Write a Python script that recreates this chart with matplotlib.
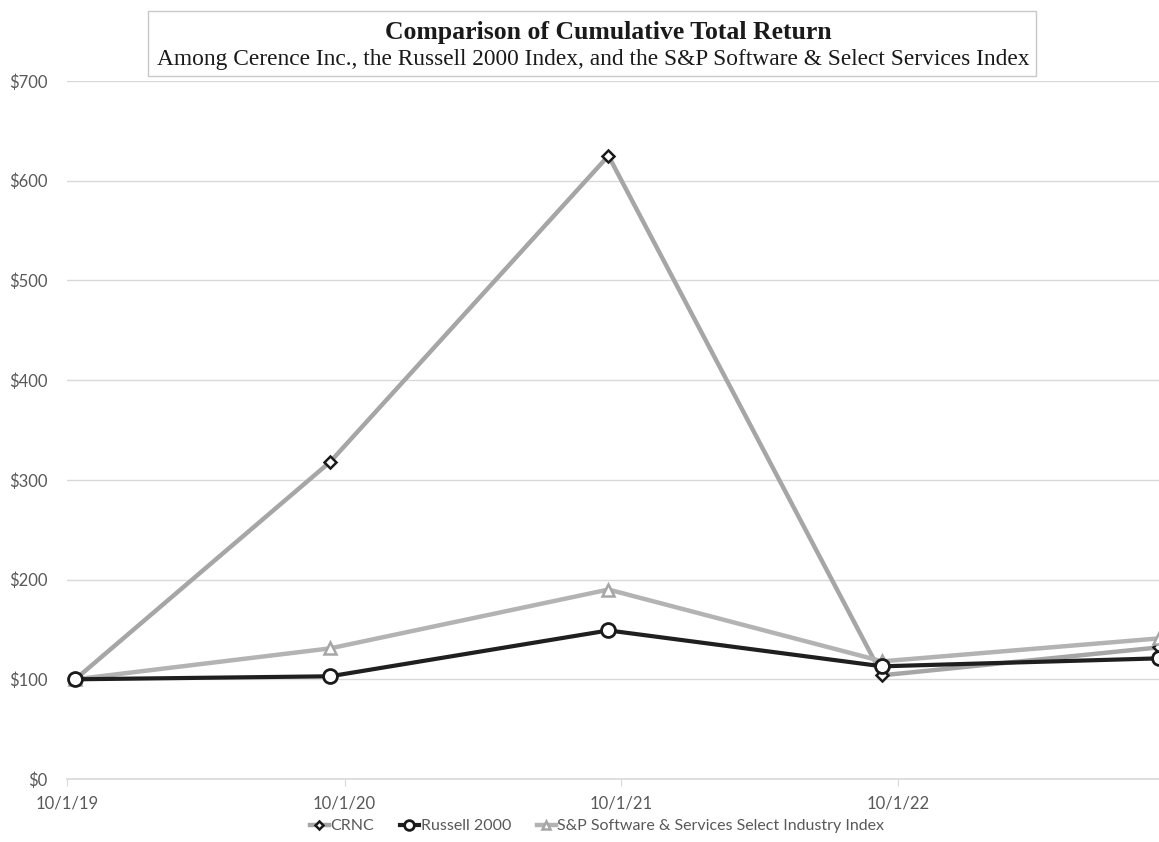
import matplotlib
matplotlib.use("Agg")
import matplotlib.pyplot as plt
import numpy as np
from datetime import datetime
from matplotlib.patches import Rectangle

# ---- data ----
dates = ["2019-10-12", "2020-09-12", "2021-09-14", "2022-09-10", "2023-09-10"]
crnc = [100, 318, 625, 104, 132]
russell = [100, 103, 149, 113, 121]
sp_software = [100, 131, 190, 118, 141]
tick_dates = ["2019-10-01", "2020-10-01", "2021-10-01", "2022-10-01"]
tick_labels = ["10/1/19", "10/1/20", "10/1/21", "10/1/22"]
y_ticks = [0, 100, 200, 300, 400, 500, 600, 700]

title = "Comparison of Cumulative Total Return"
subtitle = "Among Cerence Inc., the Russell 2000 Index, and the S&P Software & Select Services Index"
series_names = ["CRNC", "Russell 2000", "S&P Software & Services Select Industry Index"]

x = [datetime.strptime(d, "%Y-%m-%d") for d in dates]
xt = [datetime.strptime(d, "%Y-%m-%d") for d in tick_dates]

fig = plt.figure(figsize=(11.59, 8.42), dpi=100)
ax = fig.add_axes([67 / 1159, 1 - 779 / 842, 1 - 67 / 1159, (779 - 81) / 842])

label_font = "Lato"
tick_color = "#595959"

ax.plot(x, crnc, color="#a6a6a6", lw=3.2, marker="D", ms=6, mfc="white",
        mec="#1a1a1a", mew=1.8, label=series_names[0], zorder=3)
ax.plot(x, russell, color="#1f1f1f", lw=3.0, marker="o", ms=10, mfc="white",
        mec="#1a1a1a", mew=2.0, label=series_names[1], zorder=4)
ax.plot(x, sp_software, color="#b3b3b3", lw=3.2, marker="^", ms=9, mfc="white",
        mec="#a6a6a6", mew=1.8, label=series_names[2], zorder=3.5)

ax.set_xlim(datetime(2019, 10, 1), x[-1])
ax.set_ylim(0, 700)
ax.set_yticks(y_ticks)
ax.set_yticklabels([f"${v}" for v in y_ticks], fontsize=12, color=tick_color, family=label_font)
ax.set_xticks(xt)
ax.set_xticklabels(tick_labels, fontsize=12, color=tick_color, family=label_font)
ax.tick_params(axis="y", length=0, pad=14)
ax.tick_params(axis="x", length=5, color="#d9d9d9", pad=7, direction="out")

ax.grid(axis="y", color="#d9d9d9", lw=1.0)
ax.set_axisbelow(True)
for s in ["top", "right", "left"]:
    ax.spines[s].set_visible(False)
ax.spines["bottom"].set_color("#d9d9d9")
ax.spines["bottom"].set_linewidth(1.2)

# title box
fig.patches.append(Rectangle((148 / 1159, 1 - 76 / 842), (1036 - 148) / 1159, (76 - 11) / 842,
                             transform=fig.transFigure, fill=True, facecolor="white",
                             edgecolor="#c8c8c8", lw=1.0, zorder=5))
fig.text(608 / 1159, 1 - 32 / 842, title, ha="center", va="center", fontsize=18.5,
         fontweight="bold", family="Liberation Serif", color="#1a1a1a", zorder=6)
fig.text(593 / 1159, 1 - 60 / 842, subtitle, ha="center", va="center", fontsize=16.8,
         family="Liberation Serif", color="#1a1a1a", zorder=6)

leg = fig.legend(loc="center", bbox_to_anchor=(597 / 1159, 1 - 826 / 842), ncol=3,
                 frameon=False, prop={"family": label_font, "size": 11.5},
                 handlelength=1.2, columnspacing=1.6, handletextpad=0.1, markerscale=0.7)
for t in leg.get_texts():
    t.set_color(tick_color)

fig.savefig("out.png", dpi=100)
